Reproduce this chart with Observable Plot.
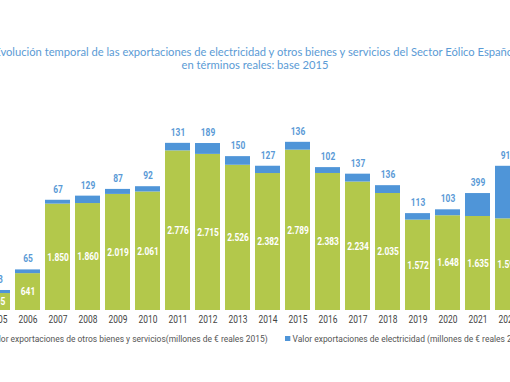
<!DOCTYPE html>
<html>
<head>
<meta charset="utf-8">
<script src="https://cdn.jsdelivr.net/npm/d3@7"></script>
<script src="https://cdn.jsdelivr.net/npm/@observablehq/plot@0.6"></script>
<style>
  html, body { margin: 0; padding: 0; background: #fff; }
  #wrap { position: relative; width: 510px; height: 382px; overflow: hidden; background: #fff; }
  #title { position: absolute; left: -245px; width: 1000px; top: 45px; text-align: center; z-index: 2;
           font-family: Lato, "Open Sans", sans-serif; font-size: 11.2px; line-height: 13px; color: #5b9bd5; white-space: nowrap; }
  #chart { position: absolute; left: -47.6px; top: 0; width: 600px; z-index: 1; }
  .leg { position: absolute; top: 333px; white-space: nowrap; z-index: 2;
         font-family: Roboto, sans-serif; font-size: 9.5px; color: #555; line-height: 12px; }
  #leg1 { transform: scaleX(0.89); transform-origin: right center; }
  #leg2 { transform: scaleX(0.89); transform-origin: left center; }
  .sw { display: inline-block; width: 5.5px; height: 5px; margin-right: 3px; vertical-align: 1px; }
</style>
</head>
<body>
<div id="wrap">
  <div id="title">Evolución temporal de las exportaciones de electricidad y otros bienes y servicios del Sector Eólico Español<br>en términos reales: base 2015</div>
  <div id="chart"></div>
  <div class="leg" id="leg1" style="right:242px"></div>
  <div class="leg" id="leg2" style="left:285px"></div>
</div>
<script>
const years = ["2005","2006","2007","2008","2009","2010","2011","2012","2013","2014","2015","2016","2017","2018","2019","2020","2021","2022"];
const otros = [295, 641, 1850, 1860, 2019, 2061, 2776, 2715, 2526, 2382, 2789, 2383, 2234, 2035, 1572, 1648, 1635, 1594];
const electricidad = [53, 65, 67, 129, 87, 92, 131, 189, 150, 127, 136, 102, 137, 136, 113, 103, 399, 914];
const seriesNames = ["Valor exportaciones de otros bienes y servicios(millones de € reales 2015)",
                     "Valor exportaciones de electricidad (millones de € reales 2015)"];
const colors = ["#b3c84b", "#4f95d8"];

const fmt = d3.formatLocale({decimal: ",", thousands: ".", grouping: [3], currency: ["", "€"]}).format(",d");
const font = "Roboto, sans-serif";

const rows = [];
years.forEach((y, i) => {
  rows.push({year: y, series: seriesNames[0], value: otros[i]});
  rows.push({year: y, series: seriesNames[1], value: electricidad[i]});
});
const tops = years.map((y, i) => ({year: y, otros: otros[i], elec: electricidad[i], total: otros[i] + electricidad[i]}));

const chart = Plot.plot({
  width: 600,
  height: 330,
  marginTop: 137.5,
  marginBottom: 20,
  marginLeft: 25,
  marginRight: 25,
  style: {fontFamily: font, background: "transparent"},
  x: {domain: years, padding: 0.174, label: null},
  y: {domain: [0, 3000], axis: null},
  color: {domain: seriesNames, range: colors},
  marks: [
    Plot.barY(rows, Plot.stackY({x: "year", y: "value", fill: "series", order: null})),
    Plot.text(tops, {x: "year", y: d => d.otros / 2, text: d => fmt(d.otros), fill: "#fff",
      fontWeight: "bold", fontSize: 10.5, fontFamily: font}),
    Plot.text(tops, {x: "year", y: "total", dy: -11, text: d => fmt(d.elec), fill: "#5a9ad6",
      fontWeight: "bold", fontSize: 10.5, fontFamily: font}),
    Plot.axisX({tickSize: 0, tickPadding: 5, fontSize: 10.5, fill: "#444", label: null, fontFamily: font})
  ]
});
document.getElementById("chart").appendChild(chart);

// condense the label glyphs horizontally (the reference uses a narrow typeface)
chart.querySelectorAll("text").forEach(t => {
  const w = t.getComputedTextLength();
  if (w > 0) {
    t.setAttribute("textLength", (w * 0.8).toFixed(2));
    t.setAttribute("lengthAdjust", "spacingAndGlyphs");
  }
});

document.getElementById("leg1").innerHTML = `<span class="sw" style="background:${colors[0]}"></span>${seriesNames[0]}`;
document.getElementById("leg2").innerHTML = `<span class="sw" style="background:${colors[1]}"></span>${seriesNames[1]}`;
</script>
</body>
</html>
